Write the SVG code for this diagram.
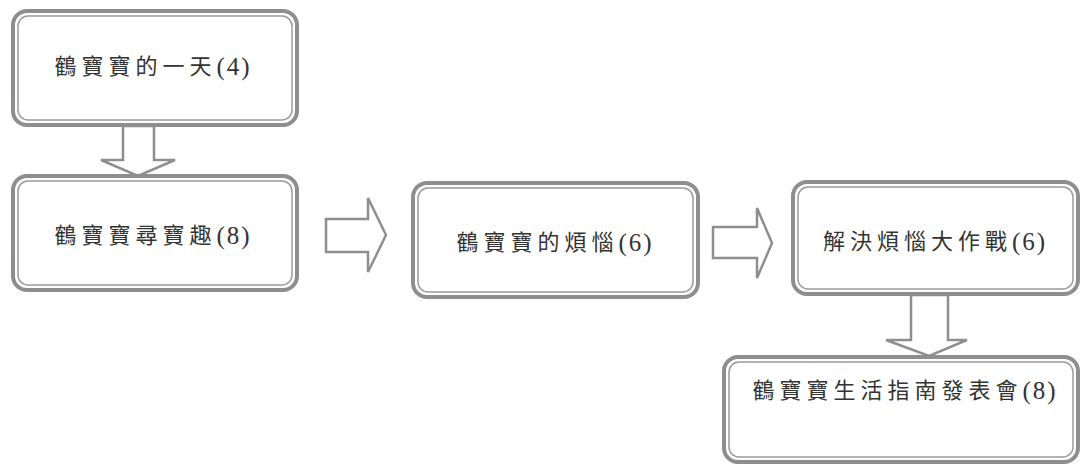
<svg xmlns="http://www.w3.org/2000/svg" width="1084" height="466" viewBox="0 0 1084 466">
<style>
.outer{fill:#fff;stroke:#8e8e8e;stroke-width:4}
.inner{fill:none;stroke:#9a9a9a;stroke-width:1.5}
.arr{fill:#fff;stroke:#8e8e8e;stroke-width:2.5;stroke-linejoin:miter}
.t{font-family:"Liberation Serif","Noto Sans CJK TC",serif;font-size:22px;fill:#333;letter-spacing:5px;text-anchor:middle;dominant-baseline:central}
.n{font-size:25px;letter-spacing:2px}
</style>
<g id="connectors">
<path class="arr" d="M123,126 V160 H101 L138,176 L175,160 H154 V126 Z"/>
<path class="arr" d="M326,219 H368 V198 L386,235 L368,272 V252 H326 Z"/>
<path class="arr" d="M713,227 H757 V208 L772,243 L757,278 V258 H713 Z"/>
<path class="arr" d="M911,295 V340 H886 L929,356 L967,340 H948 V295 Z"/>
</g>
<g id="n1">
<rect class="outer" x="13" y="11" width="284" height="114" rx="14"/>
<rect class="inner" x="18" y="16" width="274" height="104" rx="10"/>
<text class="t" x="153" y="66">鶴寶寶的一天<tspan class="n">(4)</tspan></text>
</g>
<g id="n2">
<rect class="outer" x="13" y="176" width="284" height="114" rx="14"/>
<rect class="inner" x="18" y="181" width="274" height="104" rx="10"/>
<text class="t" x="153" y="235">鶴寶寶尋寶趣<tspan class="n">(8)</tspan></text>
</g>
<g id="n3">
<rect class="outer" x="413" y="183" width="285" height="114" rx="14"/>
<rect class="inner" x="418" y="188" width="275" height="104" rx="10"/>
<text class="t" x="555" y="242">鶴寶寶的煩惱<tspan class="n">(6)</tspan></text>
</g>
<g id="n4">
<rect class="outer" x="793" y="182" width="285" height="112" rx="14"/>
<rect class="inner" x="798" y="187" width="275" height="102" rx="10"/>
<text class="t" x="935" y="241">解決煩惱大作戰<tspan class="n">(6)</tspan></text>
</g>
<g id="n5">
<rect class="outer" x="724" y="357" width="354" height="105" rx="14"/>
<rect class="inner" x="729" y="362" width="344" height="95" rx="10"/>
<text class="t" x="905" y="390">鶴寶寶生活指南發表會<tspan class="n">(8)</tspan></text>
</g>
</svg>
